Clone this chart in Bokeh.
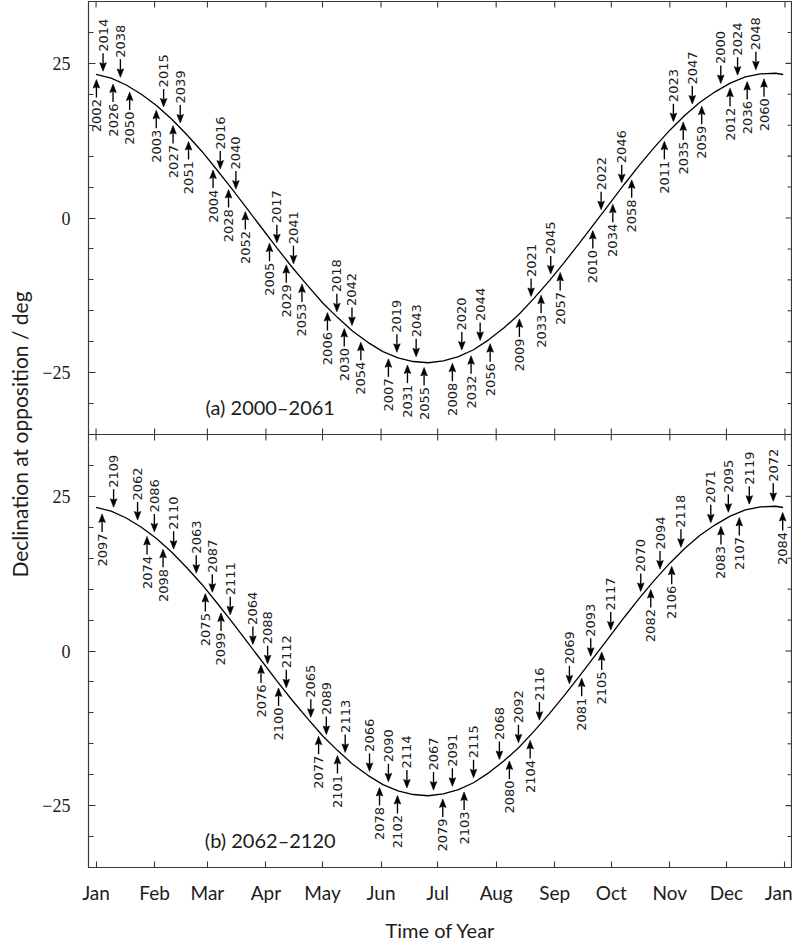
import numpy as np
from bokeh.plotting import figure
from bokeh.models import Range1d, FixedTicker, LinearAxis, CustomJSTickFormatter, Span, Title
from bokeh.embed import file_html
from bokeh.resources import INLINE
from bokeh.core.properties import value

# ---------------- data ----------------
month_start_days = [0, 31, 59, 90, 120, 151, 181, 212, 243, 273, 304, 334, 365]
month_labels = ["Jan", "Feb", "Mar", "Apr", "May", "Jun", "Jul", "Aug", "Sep", "Oct", "Nov", "Dec", "Jan"]
y_tick_values = [-25, 0, 25]
y_minor_values = [-35, -30, -25, -20, -15, -10, -5, 0, 5, 10, 15, 20, 25, 30, 35]

# declination of the opposition point through the year
curve_day = [0, 8, 16, 24, 32, 40, 48, 56, 64, 72, 80, 88, 96, 104, 112, 120,
             128, 136, 144, 152, 160, 168, 176, 184, 192, 200, 208, 216, 224, 232,
             240, 248, 256, 264, 272, 280, 288, 296, 304, 312, 320, 328, 336, 344,
             352, 360, 364]
curve_dec = [23.2, 22.6, 21.5, 20.0, 18.2, 16.0, 13.5, 10.8, 7.8, 4.7, 1.5, -1.7, -4.9, -8.0, -10.9, -13.7,
             -16.1, -18.3, -20.1, -21.6, -22.6, -23.2, -23.4, -23.1, -22.4, -21.3, -19.7, -17.8, -15.6, -13.0,
             -10.2, -7.2, -4.1, -0.9, 2.3, 5.5, 8.6, 11.5, 14.2, 16.6, 18.7, 20.4, 21.8, 22.8,
             23.3, 23.4, 23.2]

# panel (a) 2000-2061: opposition year, day of year, label side (+1 above curve, -1 below)
years_a = [2002, 2014, 2026, 2038, 2050, 2003, 2015, 2027, 2039, 2051,
           2004, 2016, 2028, 2040, 2052, 2005, 2017, 2029, 2041, 2053,
           2006, 2018, 2030, 2042, 2054, 2007, 2019, 2031, 2043, 2055,
           2008, 2020, 2032, 2044, 2056, 2009, 2021, 2033, 2045, 2057,
           2010, 2022, 2034, 2046, 2058, 2011, 2023, 2035, 2047, 2059,
           2000, 2012, 2024, 2036, 2048, 2060]
days_a = [0.2, 3.7, 9.0, 12.9, 17.8, 31.9, 35.8, 40.8, 44.6, 49.0,
          62.0, 65.8, 70.2, 74.1, 79.1, 91.9, 95.8, 100.8, 104.6, 109.1,
          122.6, 127.6, 131.5, 135.6, 140.3, 154.9, 159.4, 165.0, 169.6, 173.8,
          188.8, 193.8, 198.7, 203.5, 208.8, 224.3, 230.5, 235.8, 240.9, 245.9,
          263.2, 267.6, 273.8, 278.5, 283.8, 301.1, 305.9, 311.1, 315.9, 320.9,
          331.0, 335.9, 339.9, 345.0, 349.6, 353.9]
side_a = [-1, 1, -1, 1, -1] * 10 + [1, -1, 1, -1, 1, -1]

# panel (b) 2062-2120
years_b = [2097, 2109, 2062, 2074, 2086, 2098, 2110, 2063, 2075, 2087, 2099, 2111,
           2064, 2076, 2088, 2100, 2112, 2065, 2077, 2089, 2101, 2113,
           2066, 2078, 2090, 2102, 2114, 2067, 2079, 2091, 2103, 2115,
           2068, 2080, 2092, 2104, 2116, 2069, 2081, 2093, 2105, 2117,
           2070, 2082, 2094, 2106, 2118, 2071, 2083, 2095, 2107, 2119,
           2072, 2084]
days_b = [3.2, 9.3, 22.0, 27.0, 30.9, 35.5, 41.1, 53.1, 57.9, 61.6, 66.2, 71.1,
          83.1, 87.4, 90.9, 96.7, 100.8, 113.8, 117.9, 122.0, 127.9, 132.0,
          144.9, 150.2, 154.9, 159.7, 164.7, 178.8, 183.7, 188.8, 195.0, 200.0,
          213.7, 219.0, 223.8, 230.0, 234.9, 250.8, 257.3, 262.1, 267.9, 272.7,
          288.6, 293.9, 298.8, 305.0, 309.9, 325.7, 331.1, 335.0, 340.8, 346.1,
          358.8, 363.8]
side_b = [-1, 1] + [1, -1, 1, -1, 1] * 10 + [1, -1]

panel_titles = ["(a) 2000\u20132061", "(b) 2062\u20132120"]
y_title = "Declination at opposition / deg"
x_title = "Time of Year"

# ---------------- style / geometry ----------------
PANEL_H = 433                 # px per panel
FRAME_W, FRAME_H = 704, 2 * PANEL_H
X0, X1 = -4, 369
SPAN = 70                     # each panel spans -35..35 deg
Y0, Y1 = -35, -35 + 2 * SPAN  # panel (b) at 0 offset, panel (a) shifted up by SPAN
BOUND = Y0 + SPAN
PX_DAY = FRAME_W / (X1 - X0)
PX_DEG = FRAME_H / (Y1 - Y0)
INK = "#1c1c1c"
FRAME = "#383838"
SANS = "Lato"
YEARF = "DejaVu Sans"
SERIF = "Liberation Serif"
GAP_PX, ARROW_PX, HEAD_LEN_PX, HEAD_HALF_PX, NOTCH_PX, TEXT_GAP_PX = 5.0, 18.0, 8.5, 3.3, 1.3, 1.5

p = figure(frame_width=FRAME_W, frame_height=FRAME_H,
           x_range=Range1d(X0, X1), y_range=Range1d(Y0, Y1),
           x_axis_location=None, y_axis_location=None,
           toolbar_location=None, output_backend="svg",
           min_border_left=88, min_border_right=0, min_border_top=1, min_border_bottom=0)
p.grid.visible = False
p.background_fill_color = "white"
p.border_fill_color = "white"
p.outline_line_color = FRAME
p.outline_line_width = 1.2

# ---- left axis (both panels) ----
maj_y = [v + off for off in (SPAN, 0) for v in y_tick_values]
min_y = sorted(set(v + off for off in (SPAN, 0) for v in y_minor_values))
yfmt = CustomJSTickFormatter(args=dict(bound=BOUND, span=SPAN),
                             code="let v = tick > bound ? tick - span : tick;"
                                  "return v < 0 ? '\u2212' + Math.abs(v) : String(v);")
ly = LinearAxis(ticker=FixedTicker(ticks=maj_y, minor_ticks=min_y), formatter=yfmt)
ly.axis_line_color = None
ly.major_tick_in, ly.major_tick_out = 7, 0
ly.minor_tick_in, ly.minor_tick_out = 5, 0
ly.major_tick_line_color = FRAME
ly.minor_tick_line_color = FRAME
ly.major_tick_line_width = 1.1
ly.minor_tick_line_width = 1.1
ly.major_label_text_font = SERIF
ly.major_label_text_font_size = "18px"
ly.major_label_text_color = INK
ly.major_label_standoff = 18
p.add_layout(ly, "left")

# ---- y title centred on the upper panel ----
ytitle = Title(text=y_title, align="center", vertical_align="top", offset=PANEL_H / 2,
               text_font=SANS, text_font_size="21px", text_font_style="normal", text_color=INK)
if "standoff" in Title.properties():
    ytitle.standoff = 12
p.add_layout(ytitle, "left")

# ---- bottom axis ----
xfmt = CustomJSTickFormatter(args=dict(days=month_start_days, names=month_labels),
                             code="const i = days.indexOf(tick); return i < 0 ? '' : names[i];")
bx = LinearAxis(ticker=FixedTicker(ticks=month_start_days, minor_ticks=[]), formatter=xfmt)
bx.axis_line_color = None
bx.major_tick_in, bx.major_tick_out = 6, 0
bx.minor_tick_line_color = None
bx.major_tick_line_color = FRAME
bx.major_tick_line_width = 1.1
bx.major_label_text_font = SANS
bx.major_label_text_font_size = "19px"
bx.major_label_text_color = INK
bx.major_label_standoff = 13
bx.axis_label = x_title
bx.axis_label_text_font = SANS
bx.axis_label_text_font_size = "20px"
bx.axis_label_text_font_style = "normal"
bx.axis_label_text_color = INK
bx.axis_label_standoff = 11
p.add_layout(bx, "below")

# ---- divider between the panels and the remaining inward ticks ----
p.add_layout(Span(location=BOUND, dimension="width", line_color=FRAME, line_width=1.2))
md = np.asarray(month_start_days, dtype=float)
tx = 6 / PX_DEG
p.segment(x0=md, y0=np.full(md.size, float(Y1)), x1=md, y1=np.full(md.size, Y1 - tx),
          line_color=FRAME, line_width=1.1)
p.segment(x0=md, y0=np.full(md.size, BOUND - tx), x1=md, y1=np.full(md.size, BOUND + tx),
          line_color=FRAME, line_width=1.1)
ry = np.asarray(min_y, dtype=float)
rlen = np.where(np.isin(ry, maj_y), 7.0, 5.0) / PX_DAY
p.segment(x0=np.full(ry.size, float(X1)), y0=ry, x1=X1 - rlen, y1=ry, line_color=FRAME, line_width=1.1)


def draw_panel(years, days, sides, title, off):
    cd = np.asarray(curve_dec, dtype=float) + off
    p.line(curve_day, cd, line_color="black", line_width=1.3)

    d = np.asarray(days, dtype=float)
    s = np.asarray(sides, dtype=float)
    c = np.interp(d, curve_day, cd)
    tip = c + s * GAP_PX / PX_DEG
    base = tip + s * HEAD_LEN_PX / PX_DEG
    notch = base - s * NOTCH_PX / PX_DEG
    tail = tip + s * ARROW_PX / PX_DEG
    hw = HEAD_HALF_PX / PX_DAY

    p.segment(x0=d, y0=tail, x1=d, y1=notch, line_color="black", line_width=1.35)
    xs = [[x - hw, x, x + hw, x] for x in d]
    ys = [[b, t, b, n] for b, t, n in zip(base, tip, notch)]
    p.patches(xs, ys, fill_color="black", line_color="black", line_width=0.6)

    anchor = tail + s * TEXT_GAP_PX / PX_DEG
    labels = np.array([str(y) for y in years])
    up = s > 0
    common = dict(angle=np.pi / 2, text_baseline="middle", text_color=INK,
                  text_font=value(YEARF), text_font_size="13px")
    p.text(x=d[up], y=anchor[up], text=list(labels[up]), text_align="left", **common)
    p.text(x=d[~up], y=anchor[~up], text=list(labels[~up]), text_align="right", **common)

    p.text(x=[92.3], y=[-30.5 + off], text=[title], text_align="center", text_baseline="middle",
           text_color=INK, text_font=value(SANS), text_font_size="20px")


draw_panel(years_a, days_a, side_a, panel_titles[0], SPAN)
draw_panel(years_b, days_b, side_b, panel_titles[1], 0)

with open("out.html", "w", encoding="utf-8") as f:
    f.write(file_html(p, INLINE))
